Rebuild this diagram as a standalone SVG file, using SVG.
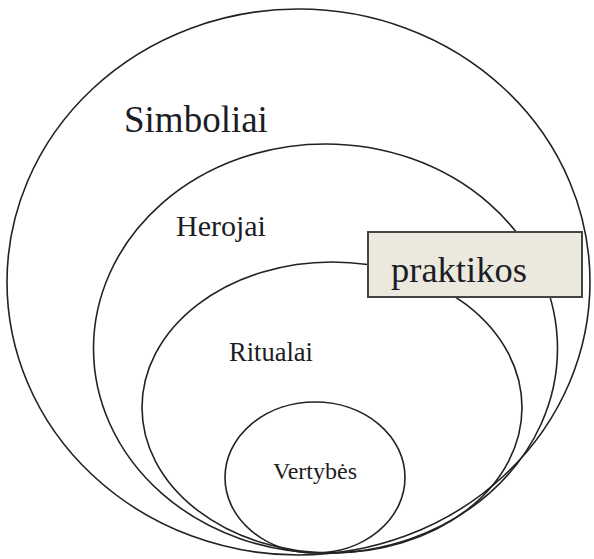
<svg xmlns="http://www.w3.org/2000/svg" width="594" height="559" viewBox="0 0 594 559">
<style>
.ring{fill:none;stroke:#222;stroke-width:1.6}
.lbl{font-family:"Liberation Serif","Times New Roman",serif;fill:#1c1c24}
</style>
<rect width="594" height="559" fill="#fff"/>
<g id="simboliai">
<ellipse class="ring" cx="298.5" cy="282" rx="291.5" ry="273"/>
<text class="lbl" x="124" y="132" font-size="37">Simboliai</text>
</g>
<g id="herojai">
<ellipse class="ring" cx="325.5" cy="348.5" rx="232" ry="204.5"/>
<text class="lbl" x="176" y="236" font-size="30">Herojai</text>
</g>
<g id="ritualai">
<ellipse class="ring" cx="332" cy="407.5" rx="190" ry="145.5"/>
<text class="lbl" x="229" y="361" font-size="26.5">Ritualai</text>
</g>
<g id="vertybes">
<ellipse class="ring" cx="315" cy="477.5" rx="90" ry="75.5"/>
<text class="lbl" x="273" y="479" font-size="24">Vertybės</text>
</g>
<g id="praktikos">
<rect x="368" y="232" width="214" height="65" fill="#EBE9DE" stroke="#444" stroke-width="2"/>
<text class="lbl" x="391" y="282" font-size="36.5">praktikos</text>
</g>
<g id="connectors"/>
</svg>
